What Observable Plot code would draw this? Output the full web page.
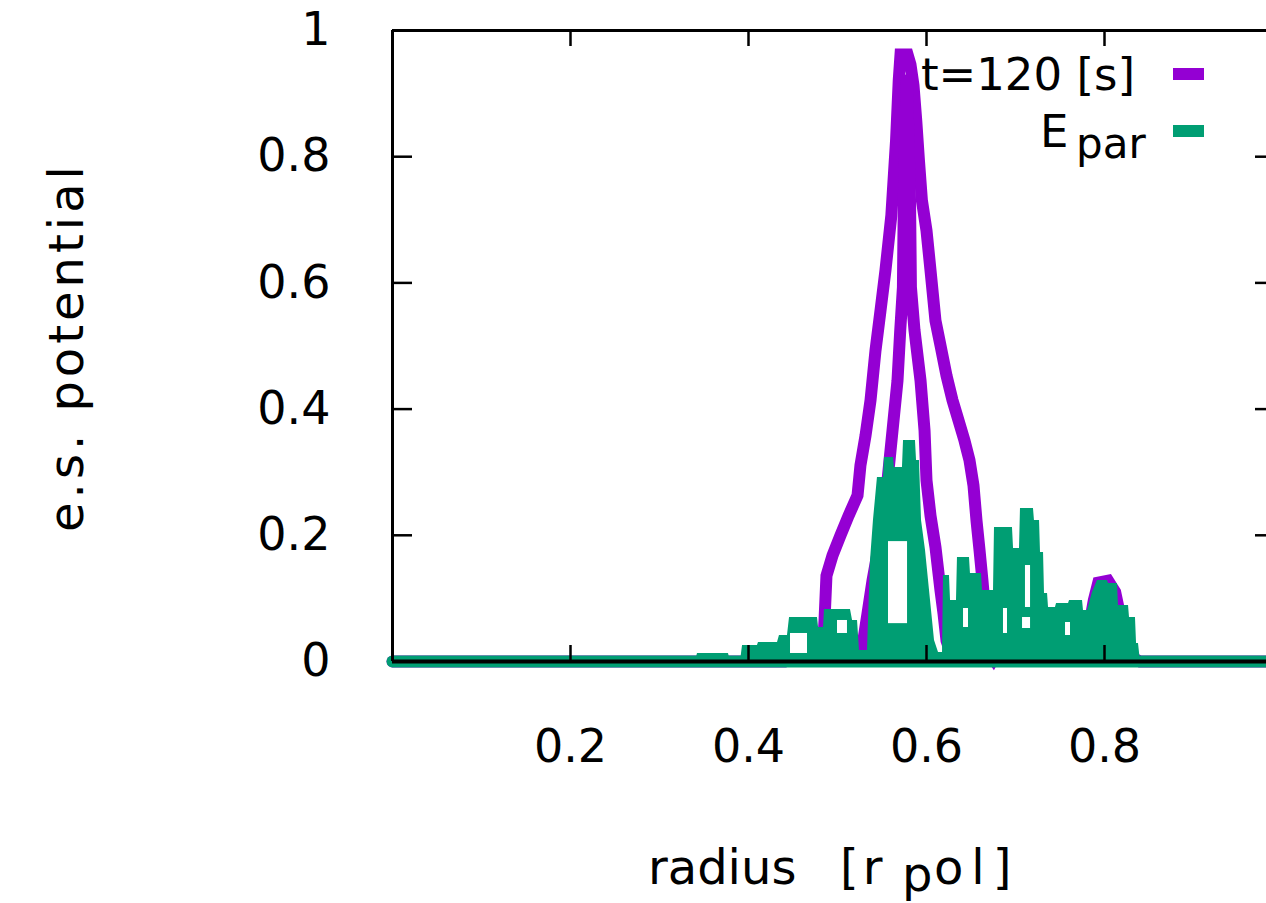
<!DOCTYPE html>
<html><head><meta charset="utf-8">
<script src="https://cdn.jsdelivr.net/npm/d3@7"></script>
<script src="https://cdn.jsdelivr.net/npm/@observablehq/plot@0.6"></script>
<style>html,body{margin:0;padding:0;background:#fff;overflow:hidden}</style>
</head><body><div id="chart"></div>
<script>
// ---- data ----
const xTicks = [0.2, 0.4, 0.6, 0.8];
const yTicks = [0, 0.2, 0.4, 0.6, 0.8, 1];

// t=120 [s] potential, outer trace (drawn in data order)
const phiOuterR = [0,0.44,0.452,0.462,0.47,0.478,0.4831,0.4854,0.4876,0.4944,0.5034,0.5124,0.5225,0.5258,0.5315,0.5371,0.5427,0.5483,0.5539,0.5605,0.5658,0.5688,0.5708,0.5787,0.582,0.5854,0.5885,0.5915,0.5948,0.6,0.6045,0.6101,0.6157,0.6225,0.6292,0.636,0.6427,0.6483,0.6528,0.6562,0.6596,0.6629,0.6663,0.6685,0.675,0.683,0.69,0.773,0.782,0.788,0.793,0.804,0.812,0.82,0.826,0.84,1];
const phiOuterV = [0,0,0.015,0.015,0.003,0.003,0.0095,0.065,0.136,0.168,0.2,0.231,0.263,0.311,0.358,0.414,0.493,0.556,0.62,0.707,0.826,0.921,0.962,0.962,0.946,0.913,0.857,0.794,0.731,0.683,0.62,0.54,0.501,0.453,0.414,0.382,0.35,0.319,0.279,0.223,0.176,0.128,0.073,0.017,0.004,0.025,0.004,0.004,0.05,0.097,0.125,0.128,0.11,0.057,0.01,0,0];
// inner trace
const phiInnerR = [0.518,0.5281,0.5337,0.5393,0.5461,0.5506,0.5562,0.5618,0.5674,0.5705,0.5735,0.5745,0.5778,0.5815,0.5825,0.5865,0.5933,0.5978,0.6,0.6045,0.6101,0.6157,0.6191,0.6225,0.628];
const phiInnerV = [0.003,0.025,0.076,0.128,0.181,0.231,0.287,0.366,0.445,0.525,0.593,0.731,0.93,0.731,0.593,0.525,0.445,0.366,0.287,0.231,0.181,0.113,0.076,0.033,0.01];

// E_par envelope
const eparR = [0,0.3404,0.3427,0.3775,0.3798,0.391,0.3933,0.4101,0.4112,0.4326,0.4348,0.4438,0.4461,0.4775,0.4787,0.4843,0.4854,0.5146,0.5169,0.5225,0.5247,0.5337,0.5371,0.5404,0.5449,0.5517,0.5528,0.5629,0.564,0.573,0.5742,0.5876,0.5888,0.5921,0.5944,0.5989,0.6045,0.609,0.6135,0.618,0.6191,0.6258,0.627,0.6337,0.6348,0.6483,0.6494,0.6618,0.6629,0.6753,0.6764,0.6966,0.6978,0.7045,0.7056,0.7202,0.7213,0.727,0.7281,0.7315,0.7326,0.736,0.7371,0.7449,0.7461,0.7596,0.7607,0.7753,0.7764,0.7809,0.7865,0.7921,0.8034,0.8045,0.8146,0.8157,0.827,0.8281,0.8348,0.836,0.8382,0.8404,1];
const eparV = [0,0,0.0127,0.0127,0,0,0.0254,0.0254,0.0301,0.0301,0.0412,0.0412,0.0697,0.0697,0.0539,0.0539,0.0824,0.0824,0.065,0.065,0.0174,0.0174,0.1601,0.2235,0.2916,0.2916,0.3233,0.3233,0.3074,0.3074,0.3502,0.3502,0.3185,0.3185,0.2235,0.1759,0.0967,0.0333,0.0143,0.0143,0.1363,0.1363,0.0967,0.0967,0.1648,0.1648,0.1395,0.1395,0.1125,0.1125,0.2124,0.2124,0.1791,0.1791,0.2425,0.2425,0.2235,0.2235,0.1727,0.1727,0.1078,0.1078,0.0856,0.0856,0.0919,0.0919,0.0967,0.0967,0.0808,0.0808,0.1094,0.1284,0.1284,0.1236,0.1236,0.0887,0.0887,0.0697,0.0697,0.0285,0.0285,0,0];
// gaps inside the E_par band
const gapR1 = [0.5573,0.4472,0.7112,0.7079,0.6865,0.6416,0.7562,0.5];
const gapR2 = [0.5787,0.4663,0.7169,0.7169,0.691,0.6472,0.7618,0.5112];
const gapLo = [0.06,0.0127,0.0856,0.0523,0.0444,0.0539,0.0412,0.0444];
const gapHi = [0.19,0.0444,0.1521,0.0697,0.084,0.084,0.0618,0.065];

// ---- tables ----
const PURPLE = "#9400d3", GREEN = "#009e73";
const phi = [
  ...phiOuterR.map((r, i) => ({r, v: phiOuterV[i], trace: "outer"})),
  ...phiInnerR.map((r, i) => ({r, v: phiInnerV[i], trace: "inner"}))
];
const epar = eparR.map((r, i) => ({r, v: eparV[i]}));
const gaps = gapR1.map((r1, i) => ({r1, r2: gapR2[i], lo: gapLo[i], hi: gapHi[i]}));
const base = [{r: 0, v: 0}, {r: 1, v: 0}];

const W = 1266, H = 903, ML = 392, MT = 30, MB = 242, MR = 0;
const PW = W - ML - MR, PH = H - MT - MB;
const FONT = "DejaVu Sans";
const fmt = d => String(d);

const svg = Plot.plot({
  width: W, height: H,
  marginLeft: ML, marginTop: MT, marginBottom: MB, marginRight: MR,
  style: {fontFamily: FONT, background: "white", color: "black", overflow: "hidden"},
  x: {domain: [0, PW / 890], axis: null},
  y: {domain: [0, 1], axis: null},
  marks: [
    Plot.line(phi, {x: "r", y: "v", z: "trace", stroke: PURPLE, strokeWidth: 12, strokeLinejoin: "miter", strokeMiterlimit: 2}),
    Plot.areaY(epar, {x: "r", y: "v", fill: GREEN}),
    Plot.rect(gaps, {x1: "r1", x2: "r2", y1: "lo", y2: "hi", fill: "white"}),
    Plot.line(base, {x: "r", y: "v", stroke: GREEN, strokeWidth: 12}),
    // border
    Plot.ruleY([0], {stroke: "black", strokeWidth: 4}),
    Plot.ruleY([1], {stroke: "black", strokeWidth: 3}),
    Plot.ruleX([0], {stroke: "black", strokeWidth: 3}),
    // inward ticks
    Plot.tickX(xTicks, {x: d => d, insetTop: PH - 16, stroke: "black", strokeWidth: 2.5}),
    Plot.tickX(xTicks, {x: d => d, insetBottom: PH - 16, stroke: "black", strokeWidth: 2.5}),
    Plot.tickY(yTicks, {y: d => d, insetRight: PW - 20, stroke: "black", strokeWidth: 2.5}),
    Plot.tickY(yTicks, {y: d => d, insetLeft: PW - 11, stroke: "black", strokeWidth: 2.5}),
    // tick labels
    Plot.axisX({ticks: xTicks, tickSize: 0, tickPadding: 68, fontSize: 46, tickFormat: fmt, label: null}),
    Plot.axisY({ticks: yTicks, tickSize: 0, tickPadding: 62, fontSize: 46, tickFormat: fmt, label: null})
  ]
});

const s = d3.select(svg);
// y label
s.append("text")
  .attr("transform", "translate(83,347) rotate(-90)")
  .attr("text-anchor", "middle")
  .attr("font-family", FONT).attr("font-size", 48).attr("letter-spacing", 4)
  .attr("fill", "black")
  .text("e.s. potential");
// x label with subscript
const xl = s.append("text")
  .attr("text-anchor", "start")
  .attr("font-family", FONT).attr("font-size", 48).attr("fill", "black")
  .attr("y", 884);
xl.append("tspan").attr("x", 648).text("radius");
xl.append("tspan").attr("x", 840).attr("letter-spacing", 4).text("[r");
xl.append("tspan").attr("x", 902).attr("y", 891).text("p");
xl.append("tspan").attr("x", 934).attr("y", 884).attr("letter-spacing", 8).text("ol]");
// key
s.append("text").attr("x", 1135).attr("y", 90).attr("text-anchor", "end")
  .attr("font-family", FONT).attr("font-size", 45).attr("fill", "black").text("t=120 [s]");
s.append("line").attr("x1", 1173).attr("x2", 1204).attr("y1", 74).attr("y2", 74)
  .attr("stroke", PURPLE).attr("stroke-width", 12);
const ek = s.append("text").attr("text-anchor", "start")
  .attr("font-family", FONT).attr("font-size", 45).attr("fill", "black").attr("y", 147);
ek.append("tspan").attr("x", 1040).text("E");
ek.append("tspan").attr("x", 1076).attr("y", 158).attr("font-size", 42).text("par");
s.append("line").attr("x1", 1173).attr("x2", 1204).attr("y1", 131).attr("y2", 131)
  .attr("stroke", GREEN).attr("stroke-width", 12);

document.getElementById("chart").appendChild(svg);
</script>
</body></html>
